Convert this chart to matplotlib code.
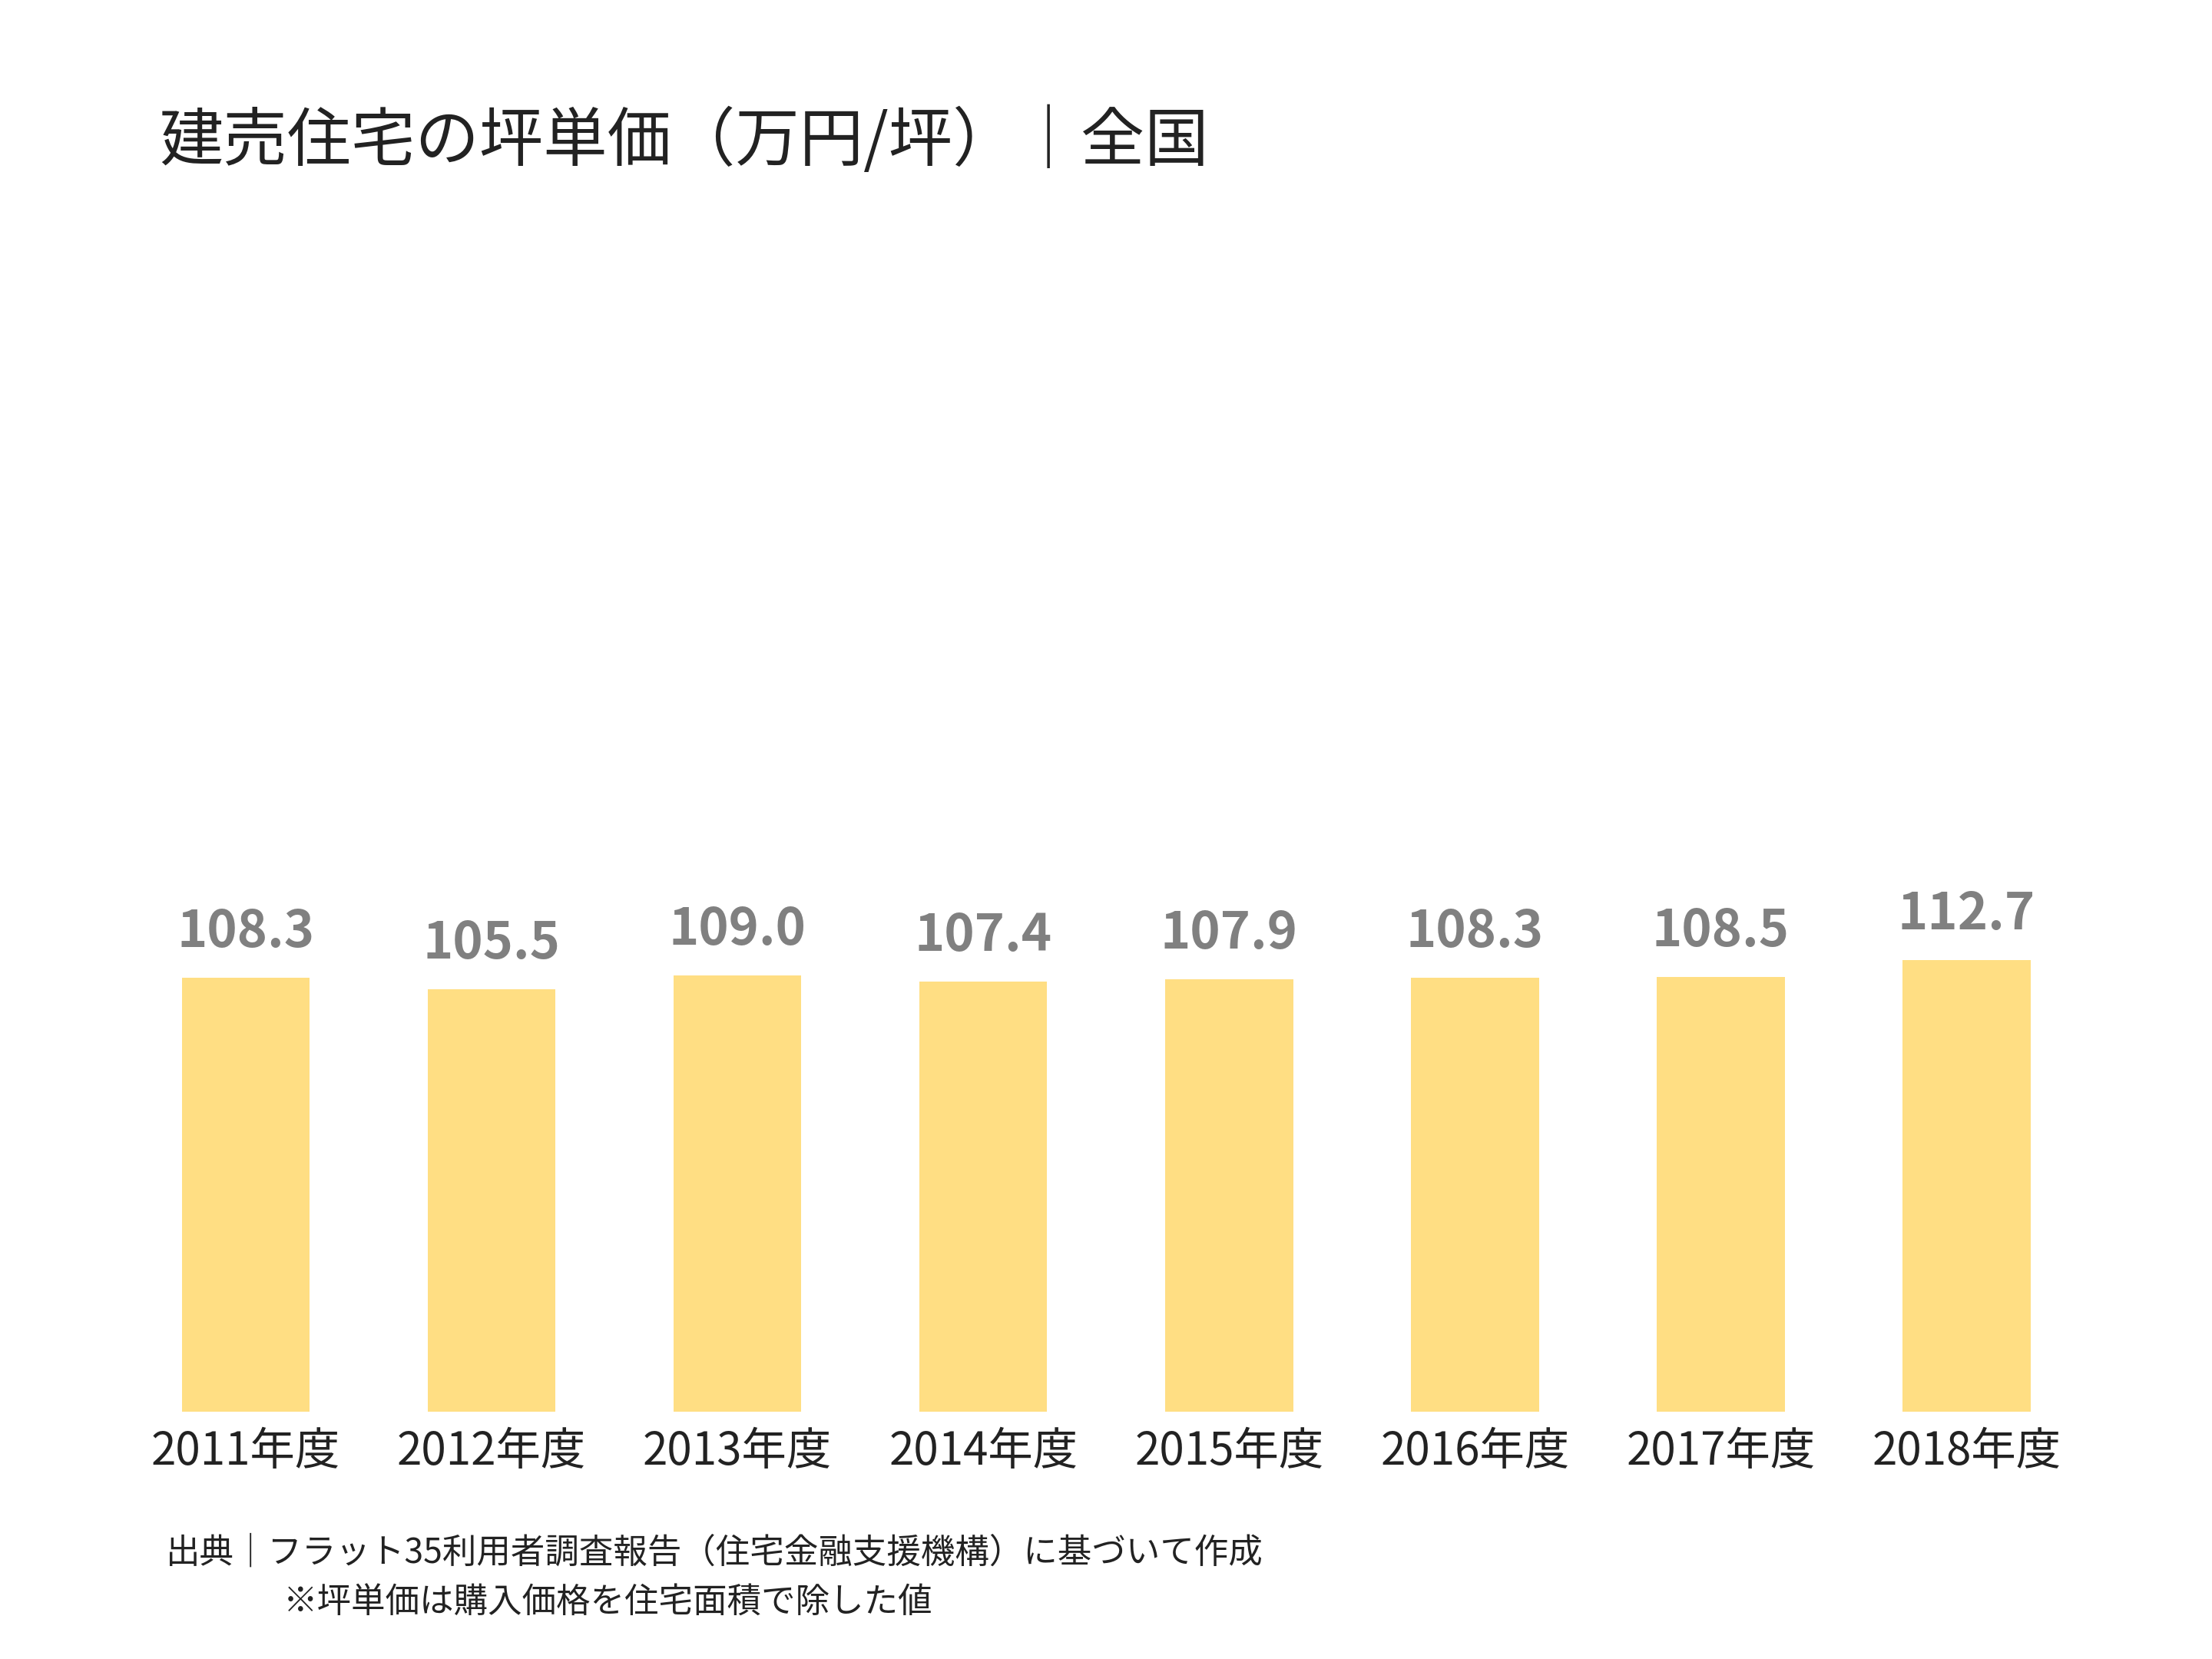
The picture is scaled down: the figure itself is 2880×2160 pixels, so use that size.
import matplotlib
matplotlib.use("Agg")
import matplotlib.pyplot as plt

plt.rcParams["font.family"] = ["Noto Sans CJK JP", "DejaVu Sans"]

years = ["2011年度", "2012年度", "2013年度", "2014年度", "2015年度", "2016年度", "2017年度", "2018年度"]
values = [108.3, 105.5, 109.0, 107.4, 107.9, 108.3, 108.5, 112.7]

fig = plt.figure(figsize=(14.4, 10.8), dpi=200)
ax = fig.add_axes([0.0556, 0.149, 0.889, 0.751])
x = range(len(years))
ax.bar(x, values, width=0.52, color="#FFDE83")
for i, v in zip(x, values):
    ax.text(i, v + 5, f"{v:.1f}", ha="center", va="bottom", fontsize=24,
            fontweight="bold", color="#808080")
ax.set_xlim(-0.5, len(years) - 0.5)
ax.set_ylim(0, 311)
ax.set_xticks(list(x))
ax.set_xticklabels(years, fontsize=21, color="#222222")
ax.tick_params(axis="x", length=0, pad=8)
ax.set_yticks([])
for s in ax.spines.values():
    s.set_visible(False)

fig.text(0.072, 0.915, "建売住宅の坪単価（万円/坪）｜全国", fontsize=30, color="#222222", va="center")
fig.text(0.075, 0.064, "出典｜フラット35利用者調査報告（住宅金融支援機構）に基づいて作成", fontsize=16, color="#222222", va="center")
fig.text(0.128, 0.034, "※坪単価は購入価格を住宅面積で除した値", fontsize=16, color="#222222", va="center")

fig.savefig("out.png", dpi=200, facecolor="white")
